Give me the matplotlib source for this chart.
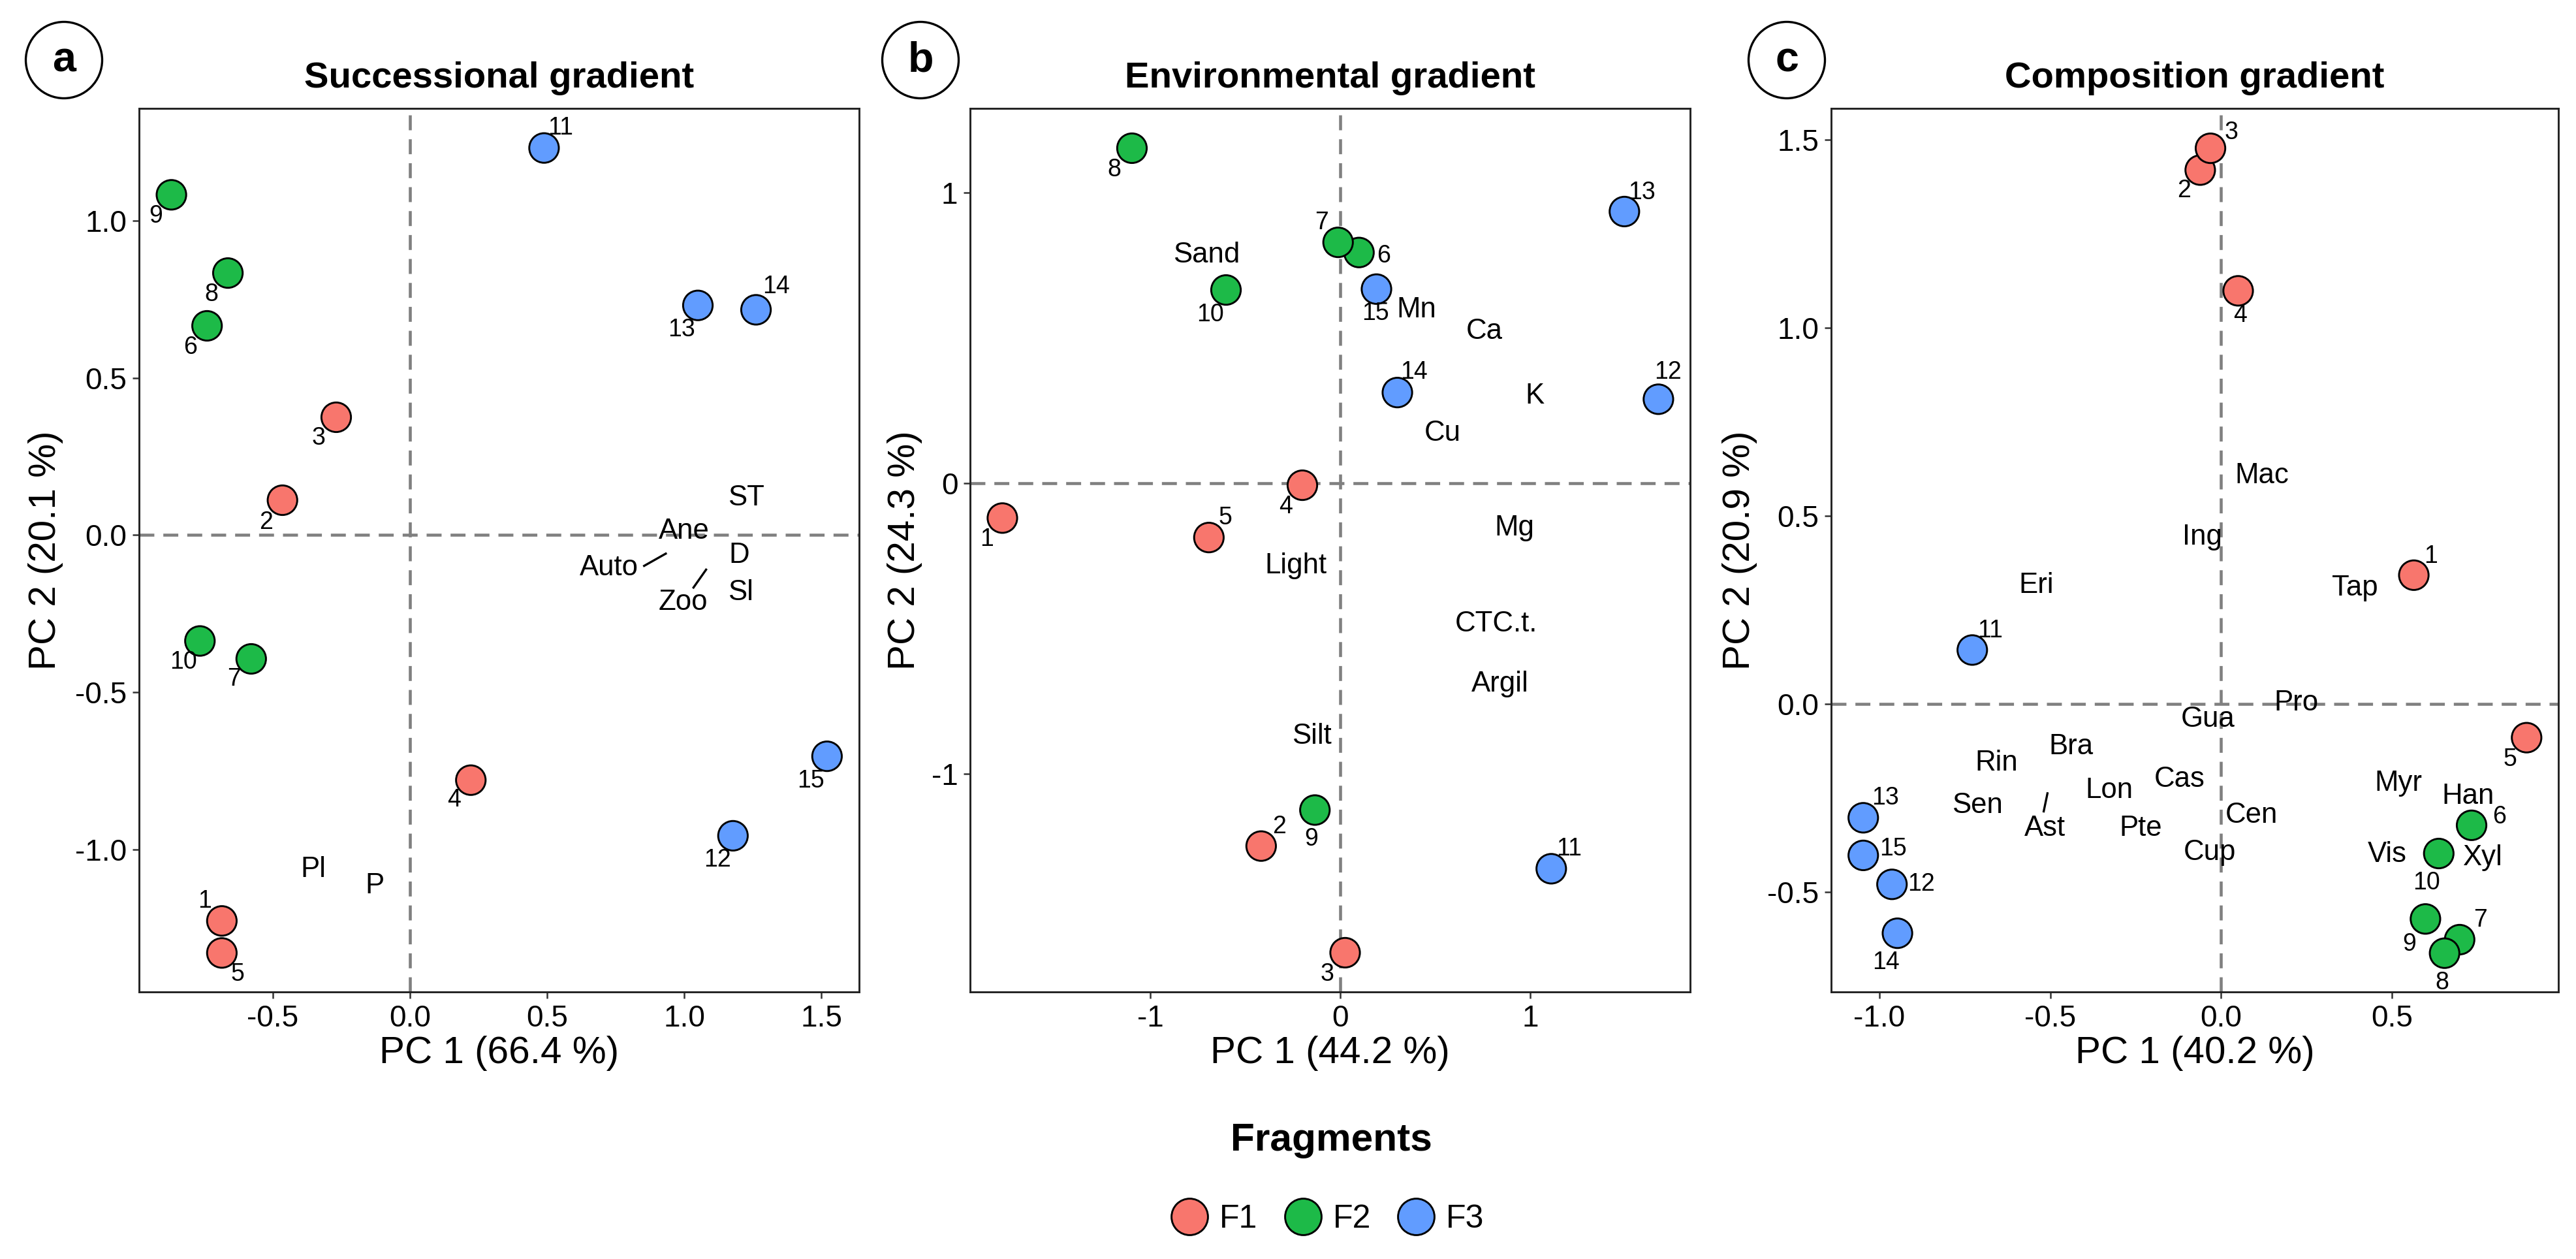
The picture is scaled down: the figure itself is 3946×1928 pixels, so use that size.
import numpy as np
import matplotlib
matplotlib.use("Agg")
import matplotlib.pyplot as plt
from matplotlib.lines import Line2D
from matplotlib.patches import Ellipse

plt.rcParams['font.family'] = ['Liberation Sans', 'DejaVu Sans']

# ---- data -------------------------------------------------------------
sites = [str(i) for i in range(1, 16)]
fragment = ['F1'] * 5 + ['F2'] * 5 + ['F3'] * 5
frag_names = ['F1', 'F2', 'F3']
frag_colors = ['#F8766D', '#1DBA48', '#619CFF']

# a) successional gradient
succ_x = [-0.686, -0.465, -0.269, 0.222, -0.686, -0.740, -0.579, -0.664, -0.870, -0.766,
          0.489, 1.178, 1.050, 1.262, 1.521]
succ_y = [-1.228, 0.111, 0.375, -0.780, -1.330, 0.666, -0.394, 0.834, 1.083, -0.337,
          1.232, -0.957, 0.731, 0.717, -0.704]
succ_vars = ['ST', 'Ane', 'D', 'Auto', 'Sl', 'Zoo', 'Pl', 'P']
succ_vx = [1.226, 1.000, 1.200, 0.725, 1.205, 0.996, -0.353, -0.129]
succ_vy = [0.119, 0.013, -0.064, -0.104, -0.184, -0.215, -1.065, -1.116]
succ_seg = [((0.854, -0.098), (0.933, -0.059)), ((1.034, -0.167), (1.080, -0.110))]

# b) environmental gradient
env_x = [-1.778, -0.416, 0.026, -0.199, -0.691, 0.099, -0.011, -1.096, -0.133, -0.601,
         1.111, 1.675, 1.496, 0.301, 0.191]
env_y = [-0.120, -1.249, -1.616, -0.007, -0.187, 0.794, 0.829, 1.153, -1.125, 0.665,
         -1.327, 0.289, 0.935, 0.312, 0.668]
env_vars = ['Sand', 'Mn', 'Ca', 'K', 'Cu', 'Mg', 'Light', 'CTC.t.', 'Argil', 'Silt']
env_vx = [-0.702, 0.402, 0.758, 1.024, 0.539, 0.918, -0.234, 0.822, 0.842, -0.148]
env_vy = [0.786, 0.597, 0.522, 0.299, 0.172, -0.155, -0.284, -0.484, -0.691, -0.871]
env_seg = []

# c) composition gradient
comp_x = [0.564, -0.061, -0.031, 0.050, 0.894, 0.733, 0.698, 0.654, 0.598, 0.637,
          -0.728, -0.963, -1.047, -0.947, -1.047]
comp_y = [0.342, 1.419, 1.477, 1.098, -0.090, -0.323, -0.627, -0.663, -0.572, -0.398,
          0.143, -0.480, -0.303, -0.610, -0.403]
comp_vars = ['Mac', 'Ing', 'Eri', 'Tap', 'Pro', 'Gua', 'Bra', 'Rin', 'Cas', 'Myr', 'Lon',
             'Han', 'Sen', 'Cen', 'Ast', 'Pte', 'Cup', 'Vis', 'Xyl']
comp_vx = [0.119, -0.055, -0.540, 0.392, 0.219, -0.039, -0.439, -0.657, -0.122, 0.518,
           -0.328, 0.722, -0.714, 0.090, -0.516, -0.235, -0.034, 0.486, 0.765]
comp_vy = [0.606, 0.444, 0.315, 0.307, 0.003, -0.042, -0.114, -0.157, -0.201, -0.211,
           -0.231, -0.246, -0.271, -0.296, -0.331, -0.331, -0.396, -0.401, -0.409]
comp_seg = [((-0.519, -0.286), (-0.508, -0.238))]

# repel-style offsets of the site numbers (pixels at 300 dpi: dx, dy up)
nudge_a = [(-26, 30), (-25, -34), (-27, -32), (-26, -30), (24, -33), (-26, -33), (-26, -31),
           (-25, -33), (-24, -33), (-25, -32), (25, 31), (-24, -37), (-25, -37), (31, 35), (-25, -38)]
nudge_b = [(-24, -33), (28, 30), (-27, -33), (-25, -33), (25, 30), (38, -5), (-25, 30),
           (-27, -33), (-6, -45), (-24, -38), (27, 30), (15, 41), (27, 29), (25, 31), (-2, -37)]
nudge_c = [(26, 29), (-25, -32), (32, 24), (3, -38), (-25, -33), (43, 13), (32, 30),
           (-4, -45), (-25, -39), (-19, -45), (27, 29), (45, 0), (34, 30), (-18, -45), (46, 10)]

W, H, DPI = 3946, 1928, 300
fig = plt.figure(figsize=(W / DPI, H / DPI), dpi=DPI)
px = 72 / DPI

panels = [
    dict(letter='a', title='Successional gradient', x=succ_x, y=succ_y, vars=succ_vars,
         vx=succ_vx, vy=succ_vy, seg=succ_seg, nudge=nudge_a,
         xlab='PC 1 (66.4 %)', ylab='PC 2 (20.1 %)',
         xlim=(-0.988, 1.638), ylim=(-1.454, 1.358),
         xt=[-0.5, 0.0, 0.5, 1.0, 1.5], yt=[-1.0, -0.5, 0.0, 0.5, 1.0], fmt='{:.1f}',
         box=(213, 1316), ylab_x=70, circ_x=98),
    dict(letter='b', title='Environmental gradient', x=env_x, y=env_y, vars=env_vars,
         vx=env_vx, vy=env_vy, seg=env_seg, nudge=nudge_b,
         xlab='PC 1 (44.2 %)', ylab='PC 2 (24.3 %)',
         xlim=(-1.948, 1.842), ylim=(-1.751, 1.29),
         xt=[-1, 0, 1], yt=[-1, 0, 1], fmt='{:.0f}',
         box=(1486, 2589), ylab_x=1386, circ_x=1410),
    dict(letter='c', title='Composition gradient', x=comp_x, y=comp_y, vars=comp_vars,
         vx=comp_vx, vy=comp_vy, seg=comp_seg, nudge=nudge_c,
         xlab='PC 1 (40.2 %)', ylab='PC 2 (20.9 %)',
         xlim=(-1.141, 0.987), ylim=(-0.766, 1.583),
         xt=[-1.0, -0.5, 0.0, 0.5], yt=[-0.5, 0.0, 0.5, 1.0, 1.5], fmt='{:.1f}',
         box=(2805, 3919), ylab_x=2665, circ_x=2737),
]

top, bottom = 166, 1519
cols = [frag_colors[frag_names.index(f)] for f in fragment]

for p in panels:
    l, r = p['box']
    ax = fig.add_axes([l / W, 1 - bottom / H, (r - l) / W, (bottom - top) / H])
    ax.set_xlim(*p['xlim'])
    ax.set_ylim(*p['ylim'])
    ax.axhline(0, color='#808080', lw=1.1, ls=(0, (5, 3)), zorder=1)
    ax.axvline(0, color='#808080', lw=1.1, ls=(0, (5, 3)), zorder=1)

    for (x0, y0), (x1, y1) in p['seg']:
        ax.plot([x0, x1], [y0, y1], color='black', lw=0.8, zorder=2)
    for name, vx, vy in zip(p['vars'], p['vx'], p['vy']):
        ax.text(vx, vy, name, fontsize=10.5, ha='center', va='center', zorder=3)

    ax.scatter(p['x'], p['y'], s=118, c=cols, edgecolors='black', linewidths=0.7, zorder=4)
    for s, xx, yy, (dx, dy) in zip(sites, p['x'], p['y'], p['nudge']):
        ax.annotate(s, (xx, yy), xytext=(dx * px, dy * px), textcoords='offset points',
                    fontsize=9, ha='center', va='center', zorder=5)

    ax.set_xticks(p['xt'])
    ax.set_xticklabels([p['fmt'].format(v) for v in p['xt']])
    ax.set_yticks(p['yt'])
    ax.set_yticklabels([p['fmt'].format(v) for v in p['yt']])
    ax.tick_params(labelsize=11, length=2.5, width=0.6, color='#333333', pad=2)
    for sp in ax.spines.values():
        sp.set_linewidth(0.7)
        sp.set_color('#222222')

    cx = (l + r) / 2 / W
    fig.text(cx, 1 - 120 / H, p['title'], fontsize=13.5, fontweight='bold',
             ha='center', va='center')
    fig.text(cx, 1 - 1613 / H, p['xlab'], fontsize=14, ha='center', va='center')
    fig.text(p['ylab_x'] / W, 1 - (top + bottom) / 2 / H, p['ylab'], fontsize=14,
             rotation=90, ha='center', va='center')
    fig.add_artist(Ellipse((p['circ_x'] / W, 1 - 92 / H), 117 / W, 117 / H,
                           transform=fig.transFigure, fc='white', ec='black', lw=0.8))
    fig.text(p['circ_x'] / W, 1 - 92 / H, p['letter'], fontsize=15.5, fontweight='bold',
             ha='center', va='center')

fig.text(2039 / W, 1 - 1747 / H, 'Fragments', fontsize=14.5, fontweight='bold',
         ha='center', va='center')
handles = [Line2D([], [], ls='none', marker='o', markersize=13.4, markerfacecolor=c,
                  markeredgecolor='black', markeredgewidth=0.7) for c in frag_colors]
fig.legend(handles, frag_names, loc='center', bbox_to_anchor=(2033 / W, 1 - 1867 / H),
           ncol=3, frameon=False, fontsize=12, handlelength=1.2, handletextpad=0.32,
           columnspacing=0.78, borderpad=0)

fig.savefig('out.png', dpi=DPI, facecolor='white')
